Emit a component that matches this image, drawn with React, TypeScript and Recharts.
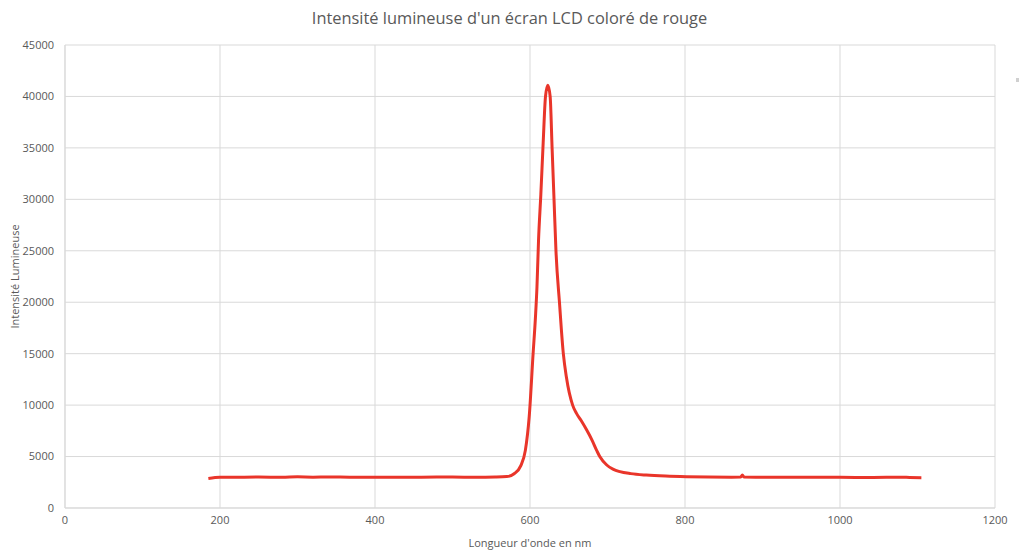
import React from "react";
import { LineChart, Line, XAxis, YAxis, CartesianGrid, Label } from "recharts";

const wavelengths = [
  185, 200, 220, 250, 280, 300, 320, 340, 370, 400, 430, 460, 500, 530, 555, 570, 580, 588, 594,
  599, 604, 607, 609, 611, 614, 617, 620, 623, 626, 628.5, 631, 633.5, 638, 643, 647, 655, 660,
  666, 673, 680, 686, 690, 699, 707, 716, 730, 750, 775, 802, 830, 860, 872, 874, 876, 900, 940,
  980, 1020, 1060, 1080, 1090, 1105,
];
const intensities = [
  2870, 2980, 2990, 3010, 2990, 3030, 3000, 3020, 2990, 3000, 2990, 3000, 3005, 2990, 3010, 3050,
  3350, 4100, 5600, 8900, 15000, 18500, 21500, 26000, 30500, 35500, 40000, 41100, 40000, 35000,
  30000, 25000, 20000, 15000, 12700, 10000, 9200, 8500, 7600, 6600, 5600, 5000, 4180, 3780, 3530,
  3340, 3200, 3100, 3040, 3010, 3000, 3010, 3200, 3010, 2990, 2980, 2990, 2970, 2980, 2995, 2960,
  2950,
];
const xTicks = [0, 200, 400, 600, 800, 1000, 1200];
const yTicks = [0, 5000, 10000, 15000, 20000, 25000, 30000, 35000, 40000, 45000];

const data = wavelengths.map((w, i) => ({ w, v: intensities[i] }));

const font = "'Open Sans', sans-serif";
const grey = "#595959";

export default function App() {
  return (
    <div style={{ position: "relative", width: 1019, height: 553, fontFamily: font, background: "#fff" }}>
      <style>{`body{margin:0}`}</style>
      <div
        style={{
          position: "absolute",
          top: 6,
          left: 0,
          width: 1019,
          textAlign: "center",
          fontSize: 16.4,
          color: grey,
        }}
      >
        Intensité lumineuse d'un écran LCD coloré de rouge
      </div>
      <div style={{ position: "absolute", left: 1016, top: 78, width: 3, height: 4, background: "#d0d0d0" }} />
      <LineChart width={1019} height={553} data={data} margin={{ top: 45, right: 24, bottom: 15, left: 5 }}>
        <CartesianGrid stroke="#d9d9d9" />
        <XAxis
          dataKey="w"
          type="number"
          domain={[0, 1200]}
          ticks={xTicks}
          tickLine={false}
          stroke="#d9d9d9"
          height={30}
          tick={{ fill: grey, fontSize: 11, fontFamily: font }}
          tickMargin={2}
        >
          <Label value="Longueur d'onde en nm" position="insideBottom" offset={-9} fill={grey} fontSize={11} fontFamily={font} />
        </XAxis>
        <YAxis
          type="number"
          domain={[0, 45000]}
          ticks={yTicks}
          tickLine={false}
          stroke="#d9d9d9"
          width={60}
          tick={{ fill: grey, fontSize: 11, fontFamily: font }}
          tickMargin={5}
        >
          <Label value="Intensité Lumineuse" angle={-90} position="insideLeft" offset={10} fill={grey} fontSize={11} fontFamily={font} style={{ textAnchor: "middle" }} />
        </YAxis>
        <Line type="monotone" dataKey="v" stroke="#e9352a" strokeWidth={3} dot={false} isAnimationActive={false} />
      </LineChart>
    </div>
  );
}
